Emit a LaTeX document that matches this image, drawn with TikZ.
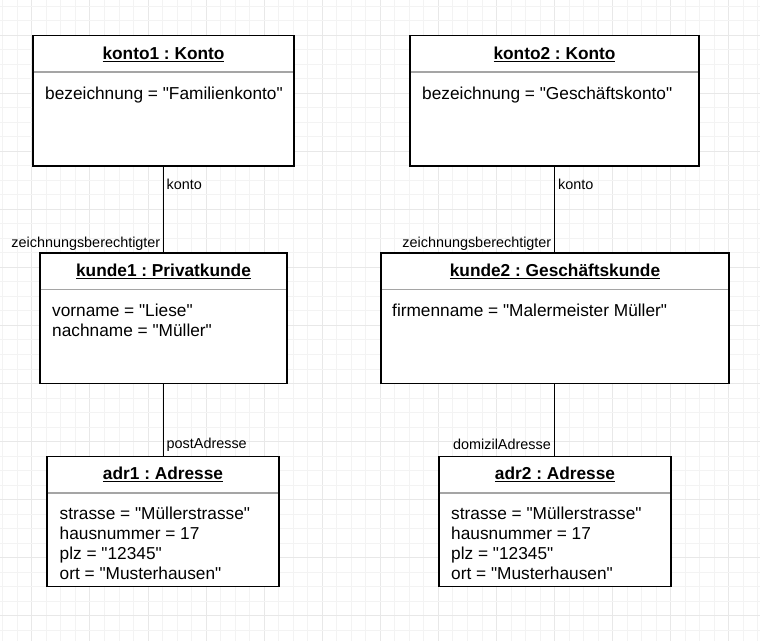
\documentclass[tikz,border=0pt]{standalone}
\usepackage{fontspec}
\setmainfont{Liberation Sans}[Ligatures=TeXOff]
\newcommand\objul[1]{\setbox0\hbox{#1}\rlap{\rule[-2.5pt]{\wd0}{1.2pt}}\box0}
\tikzset{
  obj/.style={draw=black, line width=1.4pt, fill=white, anchor=north west, inner sep=0pt, outer sep=0pt},
  objsep/.style={draw={rgb,255:red,165;green,165;blue,165}, line width=1.6pt},
  objtitle/.style={anchor=base, inner sep=0pt, font=\fontsize{17.28pt}{20.2pt}\selectfont\bfseries},
  objbody/.style={anchor=north west, inner sep=0pt, align=left, font=\fontsize{17.28pt}{20.2pt}\selectfont},
  lbl/.style={inner sep=0pt, font=\fontsize{14.4pt}{17pt}\selectfont},
  conn/.style={draw=black, line width=1.3pt},
  gridminor/.style={draw={rgb,255:red,243;green,243;blue,243}, line width=0.9pt},
  gridmajor/.style={draw={rgb,255:red,232;green,232;blue,232}, line width=0.9pt}
}
\frenchspacing
\begin{document}
\begin{tikzpicture}[x=1pt,y=-1pt]
\useasboundingbox (0,0) rectangle (760,641);
\fill[white] (0,0) rectangle (760,641);
% grid
\foreach \k in {0,...,52}{
  \pgfmathsetmacro\gx{2.8+14.52*\k}
  \pgfmathtruncatemacro\m{mod(\k,4)}
  \ifnum\m=2 \draw[gridmajor] (\gx,0) -- (\gx,641); \else \draw[gridminor] (\gx,0) -- (\gx,641); \fi
}
\foreach \k in {0,...,44}{
  \pgfmathsetmacro\gy{5.96+14.52*\k}
  \pgfmathtruncatemacro\m{mod(\k,4)}
  \ifnum\m=2 \draw[gridmajor] (0,\gy) -- (760,\gy); \else \draw[gridminor] (0,\gy) -- (760,\gy); \fi
}
% boxes
\node[obj, minimum width=261pt, minimum height=130.5pt] (konto1) at (33,35.5) {};
\node[obj, minimum width=289pt, minimum height=130.5pt] (konto2) at (410,35.5) {};
\node[obj, minimum width=247pt, minimum height=130.5pt] (kunde1) at (40,253) {};
\node[obj, minimum width=348pt, minimum height=130.5pt] (kunde2) at (381,253) {};
\node[obj, minimum width=232pt, minimum height=130pt] (adr1) at (47,456.7) {};
\node[obj, minimum width=232pt, minimum height=130pt] (adr2) at (439,456.7) {};
% separators
\foreach \b in {konto1,konto2,kunde1,kunde2,adr1,adr2}{
  \draw[objsep] ([yshift=-36.5pt,xshift=0.7pt]\b.north west) -- ([yshift=-36.5pt,xshift=-0.7pt]\b.north east);
}
% titles
\node[objtitle] (konto1t) at ([yshift=-23.8pt]konto1.north) {\objul{konto1 : Konto}};
\node[objtitle] (konto2t) at ([yshift=-23.8pt]konto2.north) {\objul{konto2 : Konto}};
\node[objtitle] (kunde1t) at ([yshift=-23.5pt]kunde1.north) {\objul{kunde1 : Privatkunde}};
\node[objtitle] (kunde2t) at ([yshift=-23.5pt]kunde2.north) {\objul{kunde2 : Geschäftskunde}};
\node[objtitle] (adr1t) at ([yshift=-23pt]adr1.north) {\objul{adr1 : Adresse}};
\node[objtitle] (adr2t) at ([yshift=-23pt]adr2.north) {\objul{adr2 : Adresse}};
% bodies
\node[objbody] (konto1b) at ([xshift=12pt,yshift=-49.5pt]konto1.north west) {\rule{0pt}{14pt}bezeichnung = "Familienkonto"};
\node[objbody] (konto2b) at ([xshift=12pt,yshift=-49.5pt]konto2.north west) {\rule{0pt}{14pt}bezeichnung = "Geschäftskonto"};
\node[objbody] (kunde1b) at ([xshift=12pt,yshift=-49.5pt]kunde1.north west) {\rule{0pt}{14pt}vorname = "Liese"\\nachname = "Müller"};
\node[objbody] (kunde2b) at ([xshift=11pt,yshift=-49.5pt]kunde2.north west) {\rule{0pt}{14pt}firmenname = "Malermeister Müller"};
\node[objbody] (adr1b) at ([xshift=12.5pt,yshift=-48.3pt]adr1.north west) {\rule{0pt}{14pt}strasse = "Müllerstrasse"\\hausnummer = 17\\plz = "12345"\\ort = "Musterhausen"};
\node[objbody] (adr2b) at ([xshift=12pt,yshift=-48.3pt]adr2.north west) {\rule{0pt}{14pt}strasse = "Müllerstrasse"\\hausnummer = 17\\plz = "12345"\\ort = "Musterhausen"};
% connectors
\draw[conn] (konto1.south) -- (konto1.south |- kunde1.north);
\draw[conn] (konto2.south) -- (konto2.south |- kunde2.north);
\draw[conn] (konto1.south |- kunde1.south) -- (konto1.south |- adr1.north);
\draw[conn] (konto2.south |- kunde2.south) -- (konto2.south |- adr2.north);
% labels
\node[lbl, anchor=base west] (l1) at ([xshift=3pt,yshift=-23pt]konto1.south) {konto};
\node[lbl, anchor=base east] (l2) at ([xshift=-3pt,yshift=6pt]konto1.south |- kunde1.north) {zeichnungsberechtigter};
\node[lbl, anchor=base west] (l3) at ([xshift=3.5pt,yshift=-23pt]konto2.south) {konto};
\node[lbl, anchor=base east] (l4) at ([xshift=-3pt,yshift=6pt]konto2.south |- kunde2.north) {zeichnungsberechtigter};
\node[lbl, anchor=base west] (l5) at ([xshift=3pt,yshift=8pt]konto1.south |- adr1.north) {postAdresse};
\node[lbl, anchor=base east] (l6) at ([xshift=-3.5pt,yshift=7.5pt]konto2.south |- adr2.north) {domizilAdresse};
\end{tikzpicture}
\end{document}
